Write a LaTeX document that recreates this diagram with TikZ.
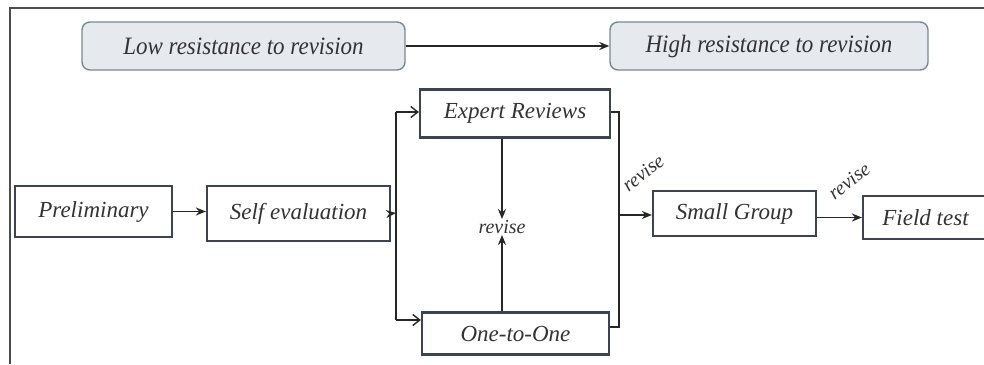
\documentclass[tikz,border=0pt]{standalone}
\usepackage{fontspec}
\setmainfont{Liberation Serif}
\usetikzlibrary{arrows.meta}
\definecolor{boxline}{HTML}{3A4550}
\definecolor{topfill}{HTML}{E6E9EE}
\definecolor{topline}{HTML}{7A8795}
\definecolor{txt}{HTML}{333333}
\begin{document}
\begin{tikzpicture}[x=1pt,y=-1pt,
  stagebox/.style={draw=boxline,line width=2.2pt,fill=white,inner sep=0pt,
    font=\fontsize{23}{26}\selectfont\itshape,text=txt},
  resbox/.style={draw=topline,line width=1.4pt,fill=topfill,rounded corners=8pt,inner sep=0pt,
    font=\fontsize{25}{28}\selectfont\itshape,text=txt},
  revlabel/.style={font=\fontsize{20}{22}\selectfont\itshape,text=txt,inner sep=1pt},
  conn/.style={draw=black!85,line width=1.8pt},
  fa/.style={-{Stealth[length=10pt,width=8pt]}},
  oa/.style={-{Straight Barb[length=7pt,width=11pt,line width=1.4pt]}}]
\useasboundingbox (0,0) rectangle (984,364);
% frame
\draw[line width=2pt,draw=black!70] (984,8) -- (10,8) -- (10,364);
% top row
\node[resbox,minimum width=323pt,minimum height=48pt] (low) at (243.5,46) {\scalebox{0.92}[1]{Low resistance to revision}};
\node[resbox,minimum width=318pt,minimum height=48pt] (high) at (769,46) {\scalebox{0.92}[1]{High resistance to revision}};
\draw[conn,fa] (low.east) -- (high.west);
% stages
\node[stagebox,minimum width=157pt,minimum height=51pt] (pre) at (93.5,211.5) {Preliminary};
\node[stagebox,minimum width=183pt,minimum height=55pt] (self) at (298.5,213.5) {Self evaluation};
\node[stagebox,minimum width=190pt,minimum height=48pt] (exp) at (515,113.5) {Expert Reviews};
\node[stagebox,minimum width=187pt,minimum height=42pt] (one) at (515.5,333.5) {One-to-One};
\node[stagebox,minimum width=163pt,minimum height=45pt] (small) at (734.5,213.5) {Small Group};
\node[stagebox,minimum width=125pt,minimum height=43pt] (field) at (925.5,217.5) {Field test};
\node[revlabel] (rev) at (502,227) {revise};
% coordinates
\coordinate (jl) at (396,213);
\coordinate (jt) at (396,112);
\coordinate (jb) at (396,320);
\coordinate (rt) at (619,112);
\coordinate (rb) at (619,327);
\coordinate (rm) at (619,215);
% connectors
\draw[conn,fa] (pre.east) -- (pre.east -| self.west);
\draw[conn,fa] (self.east) -- (jl);
\draw[conn] (jt) -- (jb);
\draw[conn,oa] (jt) -- (jt -| exp.west);
\draw[conn,oa] (jb) -- (jb -| one.west);
\draw[conn,fa] (exp.south -| rev) -- (rev.north);
\draw[conn,fa] (one.north -| rev) -- (rev.south);
\draw[conn] (rt -| exp.east) -- (rt) -- (rb) -- (rb -| one.east);
\draw[conn,fa] (rm) -- (rm -| small.west);
\draw[conn,fa] (small.east |- field.west) -- (field.west);
\node[revlabel,rotate=38] (rev2) at (643,173) {revise};
\node[revlabel,rotate=38] (rev3) at (849,181) {revise};
\end{tikzpicture}
\end{document}
